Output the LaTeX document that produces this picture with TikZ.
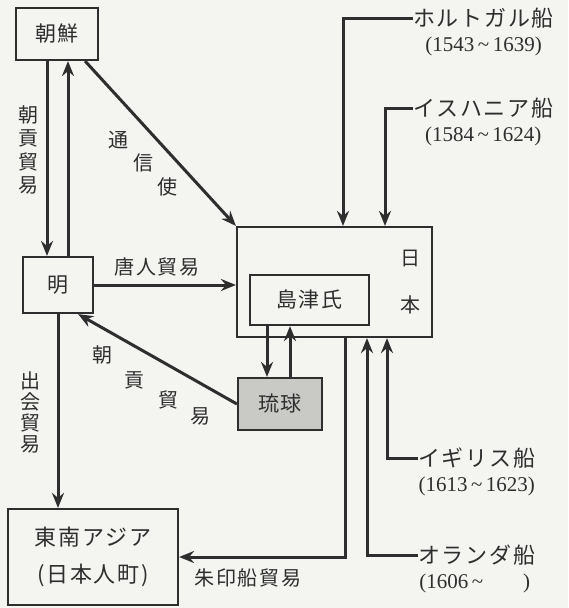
\documentclass[tikz,border=0pt]{standalone}
\usepackage{fontspec}
\setmainfont{Liberation Serif}
\newfontfamily\jp[LetterSpace=8]{Noto Sans CJK JP}
\usetikzlibrary{positioning,arrows.meta}
\definecolor{ink}{HTML}{2E2E2E}
\definecolor{paper}{HTML}{F4F4F1}
\definecolor{shade}{HTML}{C9C9C6}
\tikzstyle{land} = [draw=ink, line width=2.2pt, inner sep=0pt, text=ink, font=\jp\fontsize{21}{25}\selectfont]
\tikzstyle{trade} = [draw=ink, line width=3pt, -{Stealth[length=15pt,width=12pt,inset=5pt]}]
\tikzstyle{word} = [inner sep=0pt, text=ink, font=\jp\fontsize{20}{23.5}\selectfont]
\tikzstyle{ship} = [inner sep=0pt, text=ink, font=\jp\fontsize{22}{26}\selectfont]
\tikzstyle{year} = [inner sep=0pt, text=ink, font=\fontsize{21}{24}\selectfont]

\begin{document}
\begin{tikzpicture}[x=1pt, y=-1pt]
\useasboundingbox[fill=paper] (0,0) rectangle (568,608);
% countries
\node[land, minimum width=82, minimum height=52] (chosen) at (57,34) {朝鮮};
\node[land, minimum width=70, minimum height=56] (min) at (58,285) {明};
\node[land, minimum width=195, minimum height=110] (nihon) at (334.5,282) {};
\node[word] (hi) at (410,258) {日};
\node[word] (hon) at (410,305) {本};
\node[land, fill=paper, minimum width=119, minimum height=50] (shimazu) at (309.5,300) {島津氏};
\node[land, fill=shade, minimum width=84, minimum height=52] (ryukyu) at (280,404) {琉球};
\node[land, minimum width=170, minimum height=96, align=center,
      font=\jp\fontsize{22}{37}\selectfont] (sea) at (93,557) {東南アジア\\(日本人町)};

% european ships
\node[ship, anchor=west] (porto) at (413,18) {ホルトガル船};
\node[year, below=8pt of porto] (portoyr) {(1543\,\textasciitilde\,1639)};
\node[ship, anchor=west] (spain) at (413,108) {イスハニア船};
\node[year, below=8pt of spain] (spainyr) {(1584\,\textasciitilde\,1624)};
\node[ship, anchor=west] (igirisu) at (418,458) {イギリス船};
\node[year, below=8pt of igirisu] (igirisuyr) {(1613\,\textasciitilde\,1623)};
\node[ship, anchor=west] (oranda) at (418,555) {オランダ船};
\node[year, below=8pt of oranda, xshift=-2pt] (orandayr) {(1606\,\textasciitilde\hspace{40pt})};

% trade routes
\draw[trade] ([xshift=-10]chosen.south) -- ([xshift=-10]chosen.south |- min.north);
\draw[trade] ([xshift=11]chosen.south |- min.north) -- ([xshift=11]chosen.south);
\draw[trade] ([xshift=-14]chosen.south east) -- (nihon.north west);
\draw[trade] (min.east) -- (min.east -| nihon.west);
\draw[trade] (ryukyu.west) -- ([xshift=-16]min.south east);
\draw[trade] (min.south) -- (min.south |- sea.north);
\draw[trade] ([xshift=-13]ryukyu.north |- shimazu.south) -- ([xshift=-13]ryukyu.north);
\draw[trade] ([xshift=10]ryukyu.north) -- ([xshift=10]ryukyu.north |- shimazu.south);
\draw[trade] (porto.west) -| ([xshift=8.5]nihon.north);
\draw[trade] (spain.west) -| ([xshift=50.5]nihon.north);
\draw[trade] ([xshift=10.5]nihon.south) |- (sea.east);
\draw[trade] (oranda.west) -| ([xshift=32.5]nihon.south);
\draw[trade] (igirisu.west) -| ([xshift=52.5]nihon.south);

% route labels
\node[word, align=center] (chokoA) at (28,150) {朝\\貢\\貿\\易};
\node[word, align=center, font=\jp\fontsize{20}{21}\selectfont] (deai) at (30,412) {出\\会\\貿\\易};
\node[word] (tojin) at (157,267) {唐人貿易};
\node[word] (shuin) at (248,578) {朱印船貿易};
\foreach \ch/\x/\y [count=\i] in {通/118/140, 信/143/163, 使/167/187}
  \node[word] (tsushin\i) at (\x,\y) {\ch};
\foreach \ch/\x/\y [count=\i] in {朝/102/355, 貢/134/380, 貿/168/400, 易/200/416}
  \node[word] (chokoB\i) at (\x,\y) {\ch};
\end{tikzpicture}
\end{document}
